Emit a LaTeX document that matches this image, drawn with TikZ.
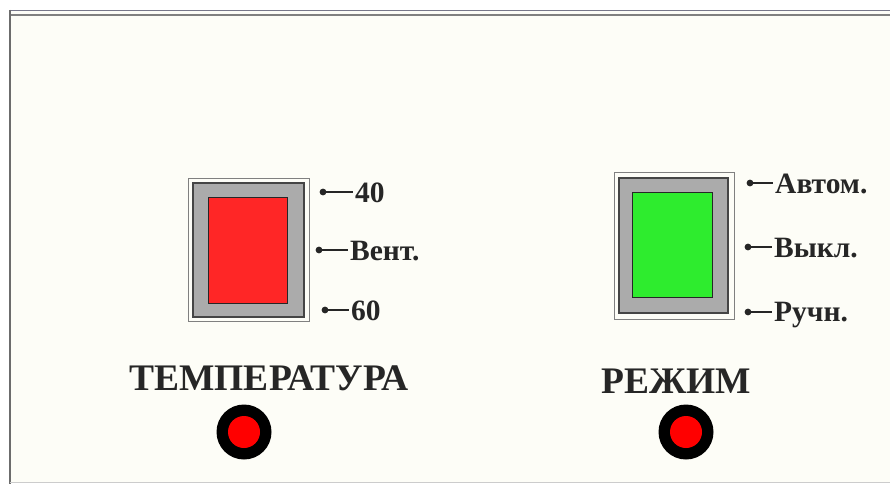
\documentclass[tikz,border=0pt]{standalone}
\usepackage{fontspec}
\setmainfont{Liberation Serif}
\definecolor{panel}{HTML}{FDFDF7}
\definecolor{ink}{HTML}{262626}
\definecolor{topline}{HTML}{77778A}
\definecolor{bezelgray}{HTML}{ABABAB}
\definecolor{bezelline}{HTML}{454545}
\definecolor{facered}{HTML}{FF2626}
\definecolor{facegreen}{HTML}{2EEC2E}
\tikzset{
	tag/.style={font=\bfseries\fontsize{29.5}{29.5}\selectfont,text=ink,anchor=west,inner xsep=2pt,inner ysep=0pt,text height=19.5pt,text depth=0pt},
	title/.style={font=\bfseries\fontsize{37.5}{37.5}\selectfont,text=ink,inner sep=0pt,text height=25pt,text depth=0pt},
	frame/.style={draw=gray,line width=0.8pt},
	bezel/.style={draw=bezelline,fill=bezelgray,line width=2pt},
	face/.style={draw=ink,line width=0.9pt},
	lamp/.style={circle,fill=black,minimum size=55pt,inner sep=0pt},
	lampcore/.style={circle,fill=red,minimum size=32pt,inner sep=0pt},
	pin/.style={fill=ink},
	lead/.style={draw=ink,line width=1.3pt}
}
\begin{document}
\begin{tikzpicture}[x=1pt,y=-1pt]
	\useasboundingbox (0,0) rectangle (890,484);
	\fill[white](0,0) rectangle (890,484);
	\fill[panel](10,10) rectangle (890,482);
	\draw[topline,line width=1.5pt](9,10.5)--(890,10.5);
	\draw[gray,line width=2pt](9,15.5)--(890,15.5);
	\draw[gray!85!black,line width=2pt](10,10)--(10,484);
	\draw[gray!40,line width=1pt](10,482.5)--(890,482.5);
	\draw[frame](188,178) rectangle (309,321);
	\draw[bezel](193,183) rectangle (304,317);
	\draw[face,fill=facered](208,197) rectangle (287,303);
	\draw[frame](614,172) rectangle (734,319);
	\draw[bezel](619,177.5) rectangle (728,313);
	\draw[face,fill=facegreen](632,192) rectangle (712,297);
	\coordinate (d40) at (323,192);
	\coordinate (dvent) at (319,250);
	\coordinate (d60) at (325,310);
	\coordinate (dauto) at (750,183);
	\coordinate (doff) at (748,247);
	\coordinate (dhand) at (748,312);
	\node[tag] (t40) at (353,193) {40};
	\node[tag] (tvent) at (348,251) {Вент.};
	\node[tag] (t60) at (349,311) {60};
	\node[tag] (tauto) at (773,184) {Автом.};
	\node[tag] (toff) at (772,248) {Выкл.};
	\node[tag] (thand) at (772,312) {Ручн.};
	\foreach \d/\t in {d40/t40,dvent/tvent,d60/t60,dauto/tauto,doff/toff,dhand/thand}{
		\fill[pin](\d) circle (3.4);
		\draw[lead](\d)--(\d-|\t.west);
	}
	\node[title] (temp) at (269,378) {ТЕМПЕРАТУРА};
	\node[title] (mode) at (676,381) {РЕЖИМ};
	\node[lamp] (lampT) at (244,432) {};
	\node[lampcore] at (lampT) {};
	\node[lamp] (lampM) at (686,432) {};
	\node[lampcore] at (lampM) {};
\end{tikzpicture}
\end{document}
